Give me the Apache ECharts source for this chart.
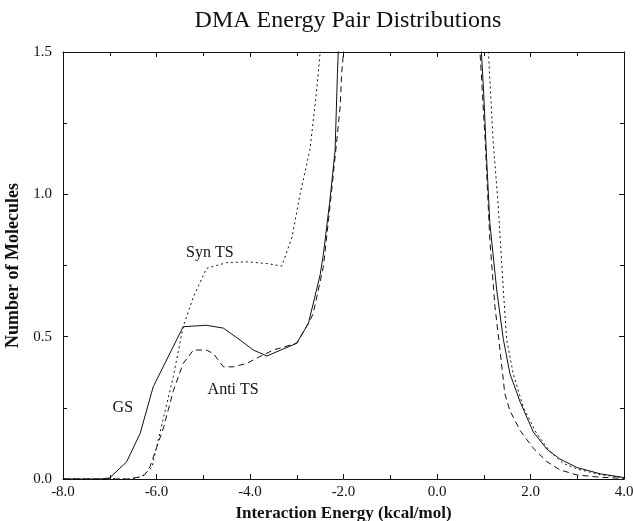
<!DOCTYPE html>
<html>
<head>
<meta charset="utf-8">
<script src="https://cdn.jsdelivr.net/npm/echarts@6/dist/echarts.min.js"></script>
<style>
html,body{margin:0;padding:0;background:#fff;}
#chart{width:633px;height:521px;}
</style>
</head>
<body>
<div id="chart"></div>
<script>
// Values (x: kcal/mol, y: number of molecules)
const titleText = "DMA Energy Pair Distributions";
const xAxisTitle = "Interaction Energy (kcal/mol)";
const yAxisTitle = "Number of Molecules";

const gsData = [[-8.0,0],[-7.2,0],[-7.0,0.004],[-6.64,0.06],[-6.35,0.16],[-6.07,0.324],[-5.43,0.535],[-4.93,0.54],[-4.57,0.53],[-4.21,0.488],[-3.93,0.453],[-3.64,0.432],[-3.0,0.477],[-2.75,0.547],[-2.5,0.717],[-2.43,0.79],[-2.29,0.98],[-2.18,1.155],[-2.13,1.425],[-2.1,1.55],[-2.0,2.0],[0.9,2.0],[0.95,1.5],[1.0,1.35],[1.06,1.13],[1.13,0.90],[1.28,0.66],[1.42,0.49],[1.56,0.37],[1.78,0.27],[2.06,0.165],[2.35,0.105],[2.63,0.07],[3.0,0.04],[3.5,0.018],[4.0,0.005]];

const synData = [[-8.0,0],[-6.5,0],[-6.3,0.01],[-6.1,0.04],[-5.93,0.16],[-5.64,0.36],[-5.43,0.535],[-5.21,0.64],[-4.93,0.74],[-4.5,0.76],[-4.07,0.763],[-3.64,0.757],[-3.32,0.748],[-3.1,0.85],[-2.93,1.0],[-2.72,1.155],[-2.61,1.31],[-2.54,1.425],[-2.5,1.5],[-2.4,2.0],[1.05,2.0],[1.10,1.5],[1.20,1.19],[1.31,0.96],[1.42,0.66],[1.49,0.49],[1.63,0.37],[1.85,0.25],[2.13,0.16],[2.42,0.096],[2.70,0.055],[3.0,0.035],[3.5,0.015],[4.0,0.005]];

const antiData = [[-8.0,0],[-6.6,0],[-6.4,0.006],[-6.25,0.015],[-6.14,0.043],[-5.85,0.18],[-5.64,0.31],[-5.43,0.406],[-5.21,0.453],[-4.93,0.453],[-4.78,0.44],[-4.57,0.394],[-4.36,0.394],[-4.07,0.406],[-3.79,0.43],[-3.5,0.453],[-3.0,0.477],[-2.75,0.547],[-2.65,0.58],[-2.43,0.746],[-2.29,0.956],[-2.18,1.13],[-2.07,1.31],[-2.04,1.425],[-2.0,1.5],[-1.95,2.0],[0.88,2.0],[0.92,1.5],[1.03,1.19],[1.13,0.84],[1.24,0.605],[1.35,0.45],[1.45,0.30],[1.56,0.24],[1.78,0.17],[2.05,0.11],[2.35,0.061],[2.63,0.032],[3.0,0.014],[3.5,0.006],[4.0,0.002]];

const curveLabels = ["GS", "Syn TS", "Anti TS"];
const labelPositions = [[-6.72,0.251],[-4.86,0.796],[-4.36,0.313]];

const serif = '"Liberation Serif", "Times New Roman", serif';
const ink = '#111';

const chart = echarts.init(document.getElementById('chart'), null, {renderer:'canvas'});

function lineSeries(name, data, type, labelIdx) {
  return {
    name: name, type: 'line', data: data, showSymbol: false, symbol: 'none',
    clip: true, smooth: false, xAxisIndex: 0, yAxisIndex: 0,
    lineStyle: {color: ink, width: 1, type: type},
    markPoint: {
      symbol: 'circle', symbolSize: 0,
      label: {show: true, formatter: curveLabels[labelIdx], color: ink,
              fontFamily: serif, fontSize: 16, position: 'inside'},
      data: [{coord: labelPositions[labelIdx]}]
    }
  };
}

const tickCfg = {show: true, inside: true, length: 5, lineStyle: {color: ink}};
const minorCfg = {show: true, splitNumber: 2, length: 4, lineStyle: {color: ink}};
const lineCfg = {show: true, onZero: false, lineStyle: {color: ink, width: 1}};

const option = {
  animation: false,
  backgroundColor: '#fff',
  title: {
    text: titleText, left: 343, top: 4, textAlign: 'center',
    textStyle: {fontFamily: serif, fontSize: 24, fontWeight: 'normal', color: ink}
  },
  grid: {left: 63, right: 9, top: 52, bottom: 42, containLabel: false, outerBoundsMode: 'none'},
  xAxis: [{
    type: 'value', min: -8, max: 4, interval: 2, position: 'bottom',
    name: xAxisTitle, nameLocation: 'middle', nameGap: 25,
    nameTextStyle: {fontFamily: serif, fontSize: 17, fontWeight: 'bold', color: ink},
    axisLine: lineCfg, axisTick: tickCfg, minorTick: minorCfg,
    axisLabel: {formatter: v => v.toFixed(1), fontFamily: serif, fontSize: 15, color: ink, margin: 6},
    splitLine: {show: false}
  }, {
    type: 'value', min: -8, max: 4, interval: 2, position: 'top',
    axisLine: lineCfg, axisTick: tickCfg, minorTick: minorCfg,
    axisLabel: {show: false}, splitLine: {show: false}
  }],
  yAxis: [{
    type: 'value', min: 0, max: 1.5, interval: 0.5, position: 'left',
    name: yAxisTitle, nameLocation: 'middle', nameGap: 34, nameRotate: 90,
    nameTextStyle: {fontFamily: serif, fontSize: 18, fontWeight: 'bold', color: ink},
    axisLine: lineCfg, axisTick: tickCfg, minorTick: minorCfg,
    axisLabel: {formatter: v => v.toFixed(1), fontFamily: serif, fontSize: 15, color: ink, margin: 11},
    splitLine: {show: false}
  }, {
    type: 'value', min: 0, max: 1.5, interval: 0.5, position: 'right',
    axisLine: lineCfg, axisTick: tickCfg, minorTick: minorCfg,
    axisLabel: {show: false}, splitLine: {show: false}
  }],
  series: [
    lineSeries('GS', gsData, 'solid', 0),
    lineSeries('Syn TS', synData, [2, 3], 1),
    lineSeries('Anti TS', antiData, [6, 4], 2)
  ]
};
chart.setOption(option);
</script>
</body>
</html>
